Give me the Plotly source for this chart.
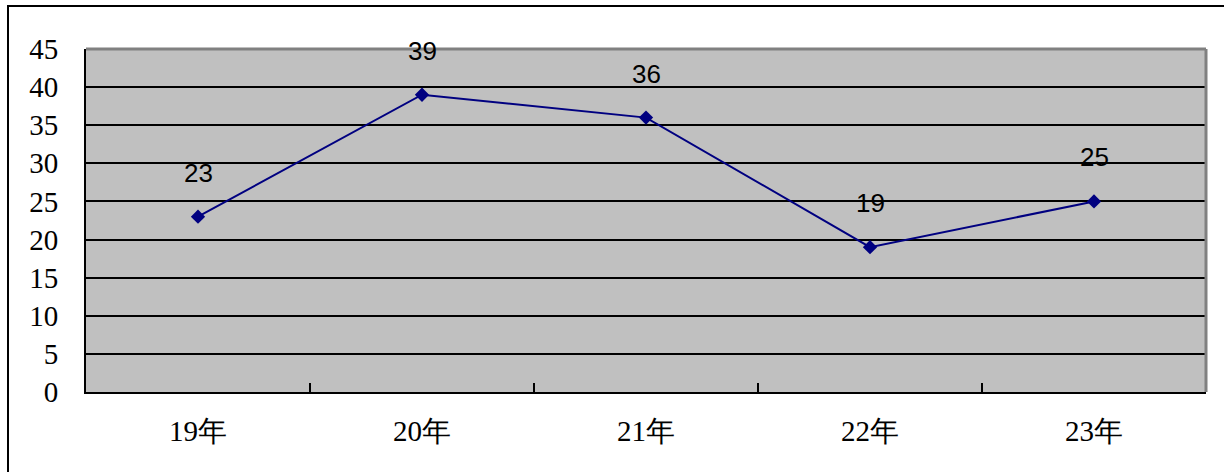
import plotly.graph_objects as go

# Yearly values
years = ["19年", "20年", "21年", "22年", "23年"]
values = [23, 39, 36, 19, 25]
y_ticks = [0, 5, 10, 15, 20, 25, 30, 35, 40, 45]

serif = "serif"
sans = "Liberation Sans"

fig = go.Figure()
fig.add_trace(go.Scatter(
    x=years, y=values, mode="lines+markers",
    line=dict(color="#000080", width=2),
    marker=dict(symbol="diamond", size=11, color="#000080"),
    showlegend=False, cliponaxis=False,
))

# value labels above each point
for xv, yv in zip(years, values):
    fig.add_annotation(x=xv, y=yv, text=str(yv), showarrow=False,
                       yshift=44, font=dict(family=sans, size=26, color="black"))

# outer chart frame
fig.add_shape(type="rect", xref="paper", yref="paper",
              x0=(8 - 86) / 1120, x1=1.2, y0=-0.5, y1=(392 - 6) / 343,
              line=dict(color="black", width=2), layer="below")
# grey top and right edges of the plot area
fig.add_shape(type="line", xref="paper", yref="paper", x0=0, x1=1, y0=1, y1=1,
              line=dict(color="#808080", width=3), layer="above")
fig.add_shape(type="line", xref="paper", yref="paper", x0=1, x1=1, y0=0, y1=1,
              line=dict(color="#808080", width=3), layer="above")

fig.update_layout(
    width=1224, height=472,
    margin=dict(l=86, r=18, t=49, b=80),
    paper_bgcolor="white", plot_bgcolor="#C0C0C0",
    font=dict(family=serif, color="black"),
    xaxis=dict(
        type="category", range=[-0.5, 4.5], tickson="boundaries",
        ticks="inside", ticklen=9, tickwidth=2, tickcolor="black",
        showgrid=False, showline=True, linecolor="black", linewidth=2,
        tickfont=dict(family=serif, size=29, color="black"),
        ticklabelstandoff=12, zeroline=False,
    ),
    yaxis=dict(
        range=[0, 45], tickvals=y_ticks, ticks="inside", ticklen=8,
        tickwidth=2, tickcolor="black",
        showgrid=True, gridcolor="black", gridwidth=2,
        showline=True, linecolor="black", linewidth=2,
        tickfont=dict(family=serif, size=29, color="black"),
        ticklabelstandoff=20, zeroline=False,
    ),
)

fig.write_html("out.html")
